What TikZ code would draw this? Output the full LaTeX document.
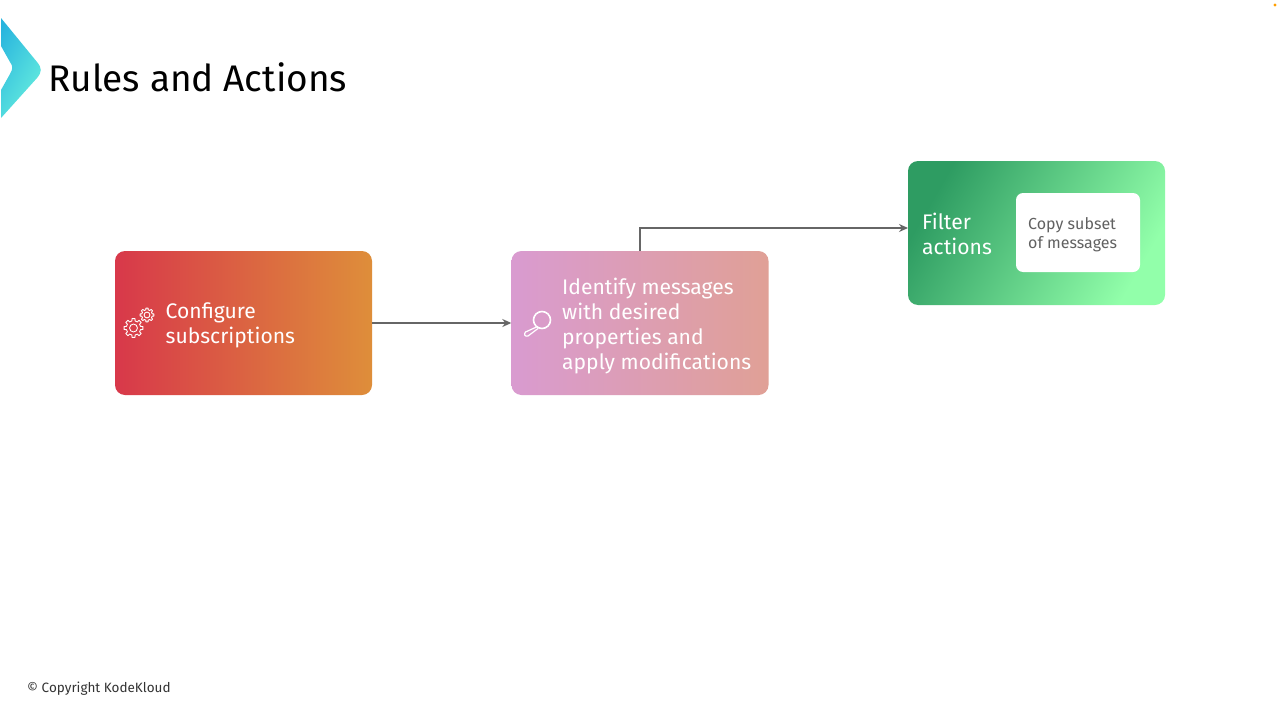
\documentclass[tikz,border=0pt]{standalone}
\usepackage{fontspec}
\setmainfont{Fira Sans}
\usetikzlibrary{arrows.meta}
\definecolor{linkgrey}{HTML}{666666}
\tikzset{
  x=1pt,y=1pt,
  flowbox/.style={draw=none,rounded corners=10pt,minimum width=257pt,minimum height=144pt,inner sep=0pt},
  boxtext/.style={text=white,font=\fontsize{21.1}{25.3}\selectfont,align=left,anchor=west,inner sep=0pt},
  link/.style={draw=linkgrey,line width=1.4pt,-{Stealth[length=9pt,width=8pt]}},
  iconline/.style={draw=white,line width=0.9pt,line join=round,line cap=round},
}
\newcommand{\gearicon}[3]{% x y radius
  \draw[iconline] ({#1+#3*cos(-13)},{#2+#3*sin(-13)})
    \foreach \a in {0,45,...,315}{
      -- ({#1+#3*cos(\a-13)},{#2+#3*sin(\a-13)})
      -- ({#1+#3*1.32*cos(\a-9)},{#2+#3*1.32*sin(\a-9)})
      -- ({#1+#3*1.32*cos(\a+9)},{#2+#3*1.32*sin(\a+9)})
      -- ({#1+#3*cos(\a+13)},{#2+#3*sin(\a+13)})
    } -- cycle;
  \draw[iconline] (#1,#2) circle ({#3*0.55});
}
\begin{document}
\begin{tikzpicture}
\useasboundingbox[fill=white] (0,0) rectangle (1280,-720);
% logo
\begin{scope}
\clip (1,-18) -- (37,-62) .. controls (42,-68) and (42,-72) .. (37,-78) -- (1,-118) -- (1,-90) -- (10,-74) .. controls (13,-69) and (13,-66) .. (10,-62) -- (1,-46) -- cycle;
\shade[left color={rgb,255:red,40;green,180;blue,222},right color={rgb,255:red,110;green,245;blue,222},shading angle=60] (-5,-10) rectangle (50,-125);
\end{scope}
\node[anchor=base west,inner sep=0pt,font=\fontsize{37}{40}\selectfont] (title) at (48,-91) {Rules and Actions};
\fill[orange!75!yellow] (1275,-5) circle (1.6);
% boxes
\node[flowbox,left color={rgb,255:red,216;green,56;blue,74},right color={rgb,255:red,222;green,142;blue,58},shading angle=90] (cfg) at (243.5,-323) {};
\node[flowbox,left color={rgb,255:red,217;green,155;blue,208},right color={rgb,255:red,224;green,160;blue,150},shading angle=90] (ident) at (640,-323) {};
\node[flowbox,left color={rgb,255:red,46;green,156;blue,98},right color={rgb,255:red,146;green,255;blue,170},shading angle=60] (filter) at (1036.5,-233) {};
\node[draw=none,fill=white,rounded corners=7pt,minimum width=124pt,minimum height=79pt,inner sep=0pt] (copy) at (1078,-232.5) {};
% texts
\node[boxtext] (cfgtext) at (165.5,-325) {Configure\\subscriptions};
\node[boxtext] (idtext) at (562,-326) {Identify messages\\with desired\\properties and\\apply modifications};
\node[boxtext] (filtertext) at (922,-233.7) {Filter\\actions};
\node[anchor=west,inner sep=0pt,align=left,text=black!62,font=\fontsize{16}{19}\selectfont] (copytext) at (1028,-234.5) {Copy subset\\of messages};
\node[anchor=base west,inner sep=0pt,text=black!80,font=\fontsize{13.5}{15}\selectfont] (copyright) at (27,-692) {© Copyright KodeKloud};
% connectors
\coordinate (filterin) at (908,-228);
\draw[link] (cfg.east) -- (ident.west);
\draw[link] (ident.north) |- (filterin);
% gears
\gearicon{133.5}{-328}{7.2}
\gearicon{147}{-315}{5.3}
% magnifier
\draw[iconline,line width=1.6pt] (542,-320) circle (8.5);
\draw[iconline,line width=1.2pt] (536.5,-327) -- (525.5,-332) .. controls (523.5,-334.5) and (525,-337) .. (528,-336) -- (538,-328.5);
\end{tikzpicture}
\end{document}
